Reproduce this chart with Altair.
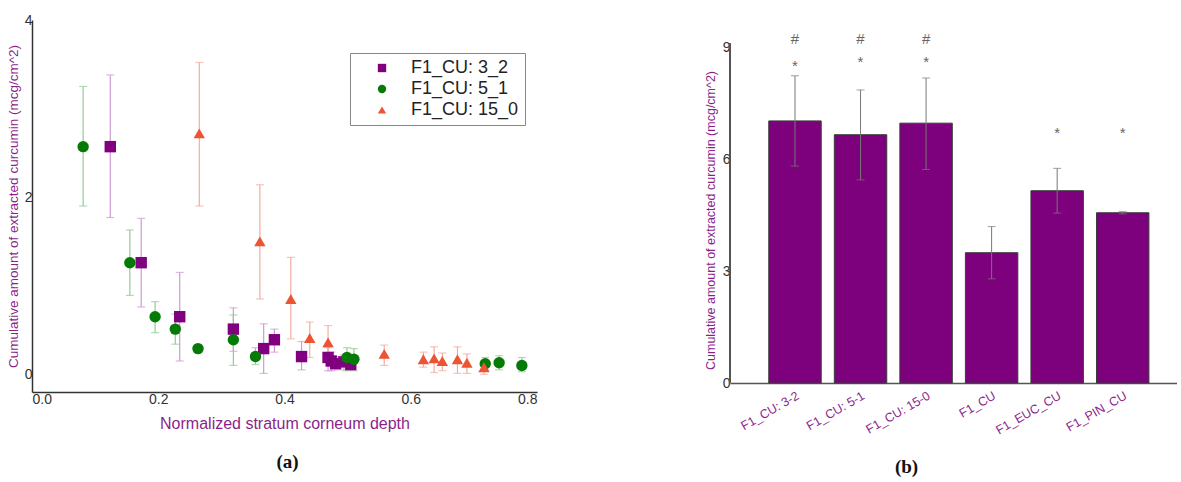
import altair as alt
import pandas as pd

FONT = "Liberation Sans"
PURPLE_TXT = "#8B1F8B"
YTITLE = "Cumulative amount of extracted curcumin (mcg/cm^2)"

# ---------------- Panel (a) data ----------------
series_order = ["F1_CU: 3_2", "F1_CU: 5_1", "F1_CU: 15_0"]

s32_x = [0.124, 0.173, 0.234, 0.319, 0.367, 0.384, 0.427, 0.469, 0.474, 0.481, 0.494, 0.505]
s32_y = [2.57, 1.26, 0.65, 0.51, 0.29, 0.39, 0.20, 0.19, 0.15, 0.12, 0.14, 0.11]
s32_lo = [1.77, 0.76, 0.15, 0.26, 0.01, 0.25, 0.05, 0.04, 0.04, 0.05, 0.05, 0.05]
s32_hi = [3.38, 1.76, 1.15, 0.75, 0.57, 0.51, 0.37, 0.30, 0.25, 0.20, 0.22, 0.18]

s51_x = [0.081, 0.155, 0.195, 0.227, 0.263, 0.319, 0.354, 0.499, 0.510, 0.718, 0.740, 0.776]
s51_y = [2.57, 1.26, 0.65, 0.51, 0.29, 0.39, 0.20, 0.19, 0.17, 0.12, 0.13, 0.10]
s51_lo = [1.90, 0.89, 0.47, 0.34, 0.29, 0.10, 0.11, 0.04, 0.04, 0.05, 0.05, 0.03]
s51_hi = [3.25, 1.63, 0.82, 0.68, 0.29, 0.67, 0.30, 0.30, 0.29, 0.19, 0.21, 0.19]

s150_x = [0.265, 0.361, 0.410, 0.440, 0.469, 0.558, 0.620, 0.637, 0.650, 0.674, 0.689, 0.716]
s150_y = [2.72, 1.50, 0.85, 0.41, 0.36, 0.23, 0.17, 0.18, 0.15, 0.17, 0.13, 0.08]
s150_lo = [1.90, 0.85, 0.40, 0.19, 0.18, 0.10, 0.08, 0.02, 0.04, 0.01, 0.01, 0.00]
s150_hi = [3.52, 2.14, 1.32, 0.59, 0.55, 0.33, 0.25, 0.31, 0.24, 0.31, 0.23, 0.14]

# ---------------- Panel (b) data ----------------
bar_labels = ["F1_CU: 3-2", "F1_CU: 5-1", "F1_CU: 15-0", "F1_CU", "F1_EUC_CU", "F1_PIN_CU"]
bar_vals = [7.02, 6.65, 6.96, 3.49, 5.15, 4.56]
bar_lo = [5.81, 5.44, 5.72, 2.79, 4.55, 4.53]
bar_hi = [8.23, 7.85, 8.17, 4.19, 5.75, 4.59]

star_groups = ["F1_CU: 3-2", "F1_CU: 5-1", "F1_CU: 15-0", "F1_EUC_CU", "F1_PIN_CU"]
star_y = [8.5, 8.6, 8.6, 6.7, 6.7]
hash_groups = ["F1_CU: 3-2", "F1_CU: 5-1", "F1_CU: 15-0"]
hash_y = [9.22, 9.22, 9.22]

# ---------------- Build tables ----------------
rows = []
for name, xs, ys, los, his in [
    (series_order[0], s32_x, s32_y, s32_lo, s32_hi),
    (series_order[1], s51_x, s51_y, s51_lo, s51_hi),
    (series_order[2], s150_x, s150_y, s150_lo, s150_hi),
]:
    for a, b, c, d in zip(xs, ys, los, his):
        rows.append({"series": name, "x": a, "y": b, "lo": c, "hi": d})
df_a = pd.DataFrame(rows)

df_b = pd.DataFrame({"group": bar_labels, "value": bar_vals, "lo": bar_lo, "hi": bar_hi})
df_ann = pd.DataFrame(
    [{"group": g, "y": v, "sym": "*"} for g, v in zip(star_groups, star_y)]
    + [{"group": g, "y": v, "sym": "#"} for g, v in zip(hash_groups, hash_y)]
)

color_scale = alt.Scale(domain=series_order, range=["#800080", "#067A06", "#EC5434"])
err_color_scale = alt.Scale(domain=series_order, range=["#CF9AD3", "#93CC93", "#F2ACA0"])
shape_scale = alt.Scale(domain=series_order, range=["square", "circle", "triangle-up"])

xs_a = alt.Scale(domain=[0, 0.8], nice=False, zero=False)
ys_a = alt.Scale(domain=[-0.2, 4], nice=False, zero=False)

x_axis_a = alt.Axis(values=[0, 0.2, 0.4, 0.6, 0.8], format=".1f", title="Normalized stratum corneum depth",
                    grid=False, ticks=False, labelPadding=0, domainColor="#333", domainWidth=1.5,
                    labelFontSize=14, labelColor="#333", titleFontSize=16, titleColor=PURPLE_TXT,
                    titleFontWeight="normal", titlePadding=9, labelFont=FONT, titleFont=FONT)
y_axis_a = alt.Axis(values=[0, 2, 4], format="d", title=YTITLE,
                    grid=False, ticks=False, labelPadding=0, domainColor="#333", domainWidth=1.5,
                    labelFontSize=14, labelColor="#333", titleFontSize=13.5, titleColor=PURPLE_TXT,
                    titleFontWeight="normal", titlePadding=4, labelFont=FONT, titleFont=FONT)

legend_a = alt.Legend(title=None, orient="none", legendX=318, legendY=33,
                      strokeColor="#888", fillColor="white", padding=6,
                      labelFontSize=18, labelColor="#222", labelFont=FONT,
                      symbolSize=70, symbolOffset=17, labelOffset=20, rowPadding=3,
                      symbolOpacity=1)

err_a = alt.Chart(df_a).mark_errorbar(ticks=True, thickness=1.2, size=8).encode(
    x=alt.X("x:Q", scale=xs_a, axis=x_axis_a, title="Normalized stratum corneum depth"),
    y=alt.Y("lo:Q", scale=ys_a, axis=y_axis_a, title=YTITLE),
    y2="hi:Q",
    color=alt.Color("series:N", scale=err_color_scale, legend=None),
)
pts_a = alt.Chart(df_a).mark_point(filled=True, size=130, opacity=1).encode(
    x=alt.X("x:Q", scale=xs_a, axis=x_axis_a, title="Normalized stratum corneum depth"),
    y=alt.Y("y:Q", scale=ys_a, axis=y_axis_a, title=YTITLE),
    color=alt.Color("series:N", scale=color_scale, title=None, legend=legend_a),
    shape=alt.Shape("series:N", scale=shape_scale, title=None, legend=legend_a),
)

left = alt.layer(err_a, pts_a).resolve_scale(color="independent", shape="independent").properties(
    width=505, height=372,
    title=alt.TitleParams("(a)", orient="bottom", font="Liberation Serif", fontSize=19, fontWeight="bold",
                          color="#111", anchor="middle", frame="group", offset=22, dx=3),
)

# ---------------- Panel (b) ----------------
y_top = 9 * 363 / 336
ys_b = alt.Scale(domain=[0, y_top], nice=False, zero=True)
xs_b = alt.Scale(domain=bar_labels, paddingInner=0.2, paddingOuter=0.51, align=0.58)

x_axis_b = alt.Axis(title=None, labelAngle=-30, labelAlign="right", labelBaseline="top", ticks=False,
                    labelPadding=6, domainColor="#555", domainWidth=1.5, labelFontSize=12.5,
                    labelColor=PURPLE_TXT, labelFont=FONT)
y_axis_b = alt.Axis(values=[0, 3, 6, 9], title=YTITLE,
                    grid=False, ticks=False, domain=False, labelPadding=0, labelFontSize=14,
                    labelColor="#333", titleFontSize=12.5, titleColor=PURPLE_TXT, titleFontWeight="normal",
                    titlePadding=5, labelFont=FONT, titleFont=FONT, titleY=200)

bars = alt.Chart(df_b).mark_bar(color="#7D007D", stroke="#3a3a3a", strokeWidth=1).encode(
    x=alt.X("group:N", scale=xs_b, axis=x_axis_b, sort=bar_labels, title=None),
    y=alt.Y("value:Q", scale=ys_b, axis=y_axis_b, title=YTITLE),
)
err_b = alt.Chart(df_b).mark_errorbar(ticks=True, color="#777", thickness=1, size=8).encode(
    x=alt.X("group:N", scale=xs_b, sort=bar_labels, title=None),
    y=alt.Y("lo:Q", scale=ys_b, title=YTITLE),
    y2="hi:Q",
)
ann = alt.Chart(df_ann).mark_text(font=FONT, fontSize=15, color="#666", baseline="middle").encode(
    x=alt.X("group:N", scale=xs_b, sort=bar_labels, title=None),
    y=alt.Y("y:Q", scale=ys_b, title=YTITLE),
    text="sym:N",
)
yaxis_line = alt.Chart(df_b).mark_rule(color="#555", strokeWidth=1.5).encode(
    x=alt.value(0), y=alt.datum(0, scale=ys_b, title=YTITLE), y2=alt.datum(9.1),
)

right = alt.layer(bars, err_b, ann, yaxis_line).properties(
    width=447, height=363,
    title=alt.TitleParams("(b)", orient="bottom", font="Liberation Serif", fontSize=19, fontWeight="bold",
                          color="#111", anchor="middle", frame="group", offset=22, dx=-47),
)

chart = alt.hconcat(left, right, spacing=193, bounds="flush").resolve_scale(
    color="independent", shape="independent", x="independent", y="independent"
).properties(
    padding={"left": 6, "top": 13, "right": 0, "bottom": 0},
    background="white",
).configure_view(stroke=None)

chart.save("out.html", embed_options={"renderer": "svg", "actions": False})
